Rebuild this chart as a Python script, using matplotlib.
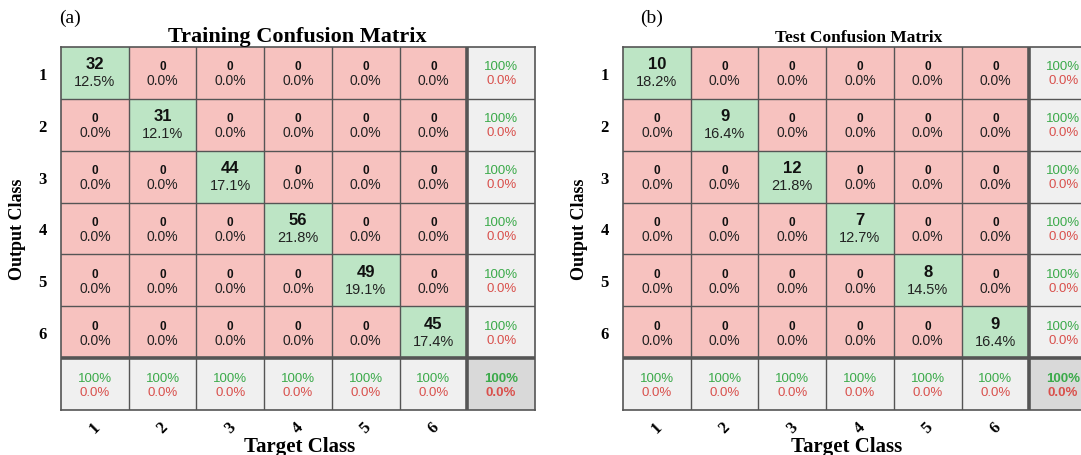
import numpy as np
import matplotlib.pyplot as plt
from matplotlib.patches import Rectangle

# Data
classes = ['1', '2', '3', '4', '5', '6']
train_diag = [32, 31, 44, 56, 49, 45]
train_pct = [12.5, 12.1, 17.1, 21.8, 19.1, 17.4]
test_diag = [10, 9, 12, 7, 8, 9]
test_pct = [18.2, 16.4, 21.8, 12.7, 14.5, 16.4]
row_acc = ['100%'] * 6
col_acc = ['100%'] * 6
total_acc = '100%'

# colours
GREEN_CELL = '#BDE5C5'
RED_CELL = '#F7C2BF'
GREY_CELL = '#F0F0F0'
DARK_CELL = '#D9D9D9'
GREEN_TXT = '#3BAA4A'
RED_TXT = '#D9504C'
LINE = '#555555'
SERIF = 'Liberation Serif'
SANS = 'Liberation Sans'

W, H = 1081, 456
fig = plt.figure(figsize=(W / 100, H / 100), dpi=100)


def draw_matrix(ax, diag, pct):
    n = len(diag)
    ax.set_xlim(0, n + 1)
    ax.set_ylim(n + 1, 0)
    for i in range(n + 1):
        for j in range(n + 1):
            if i == n and j == n:
                fc = DARK_CELL
            elif i == n or j == n:
                fc = GREY_CELL
            elif i == j:
                fc = GREEN_CELL
            else:
                fc = RED_CELL
            ax.add_patch(Rectangle((j, i), 1, 1, facecolor=fc, edgecolor='none'))

            if i < n and j < n:
                if i == j:
                    ax.text(j + 0.5, i + 0.33, str(diag[i]), ha='center', va='center',
                            fontsize=12, fontweight='bold', family=SANS, color='#111111')
                    ax.text(j + 0.5, i + 0.66, '%.1f%%' % pct[i], ha='center', va='center',
                            fontsize=10.5, family=SANS, color='#222222')
                else:
                    ax.text(j + 0.5, i + 0.38, '0', ha='center', va='center',
                            fontsize=8.5, fontweight='bold', family=SANS, color='#111111')
                    ax.text(j + 0.5, i + 0.64, '0.0%', ha='center', va='center',
                            fontsize=10, family=SANS, color='#222222')
            else:
                if i == n and j == n:
                    top, w = total_acc, 'bold'
                elif i == n:
                    top, w = col_acc[j], 'normal'
                else:
                    top, w = row_acc[i], 'normal'
                ax.text(j + 0.5, i + 0.38, top, ha='center', va='center',
                        fontsize=9.5, fontweight=w, family=SANS, color=GREEN_TXT)
                ax.text(j + 0.5, i + 0.64, '0.0%', ha='center', va='center',
                        fontsize=9.5, fontweight=w, family=SANS, color=RED_TXT)

    for k in range(1, n + 1):
        lw = 2.6 if k == n else 1.0
        ax.axvline(k, color=LINE, lw=lw)
        ax.axhline(k, color=LINE, lw=lw)
    for s in ax.spines.values():
        s.set_color(LINE)
        s.set_linewidth(1.2)

    ax.set_xticks(np.arange(n) + 0.5)
    ax.set_xticklabels(classes, rotation=45, ha='center', va='center',
                       fontsize=12, fontweight='bold', family=SERIF)
    ax.set_yticks(np.arange(n) + 0.5)
    ax.set_yticklabels(classes, fontsize=12, fontweight='bold', family=SERIF)
    ax.tick_params(length=0)
    ax.tick_params(axis='x', pad=12)
    ax.tick_params(axis='y', pad=10)


# axes placement (right panel runs past the figure edge like the reference)
ax_w = 474 / W
ax_h = 363.6 / H
ax_b = 1 - 411.3 / H
ax1 = fig.add_axes([61 / W, ax_b, ax_w, ax_h])
ax2 = fig.add_axes([623 / W, ax_b, ax_w, ax_h])

draw_matrix(ax1, train_diag, train_pct)
draw_matrix(ax2, test_diag, test_pct)

# titles and labels
fig.text(297 / W, 1 - 42 / H, 'Training Confusion Matrix', ha='center', va='baseline',
         fontsize=16, fontweight='bold', family=SERIF)
fig.text(859 / W, 1 - 42 / H, 'Test Confusion Matrix', ha='center', va='baseline',
         fontsize=12.5, fontweight='bold', family=SERIF)
fig.text(70 / W, 1 - 18 / H, '(a)', ha='center', va='center', fontsize=14, family=SERIF)
fig.text(652 / W, 1 - 18 / H, '(b)', ha='center', va='center', fontsize=14, family=SERIF)

for xc in (18, 579):
    fig.text(xc / W, 1 - 229 / H, 'Output Class', ha='center', va='center', rotation=90,
             fontsize=13, fontweight='bold', family=SERIF)
for xc in (300, 847):
    fig.text(xc / W, 1 - 447 / H, 'Target Class', ha='center', va='center',
             fontsize=15, fontweight='bold', family=SERIF)

fig.savefig('out.png', dpi=100, facecolor='white')
